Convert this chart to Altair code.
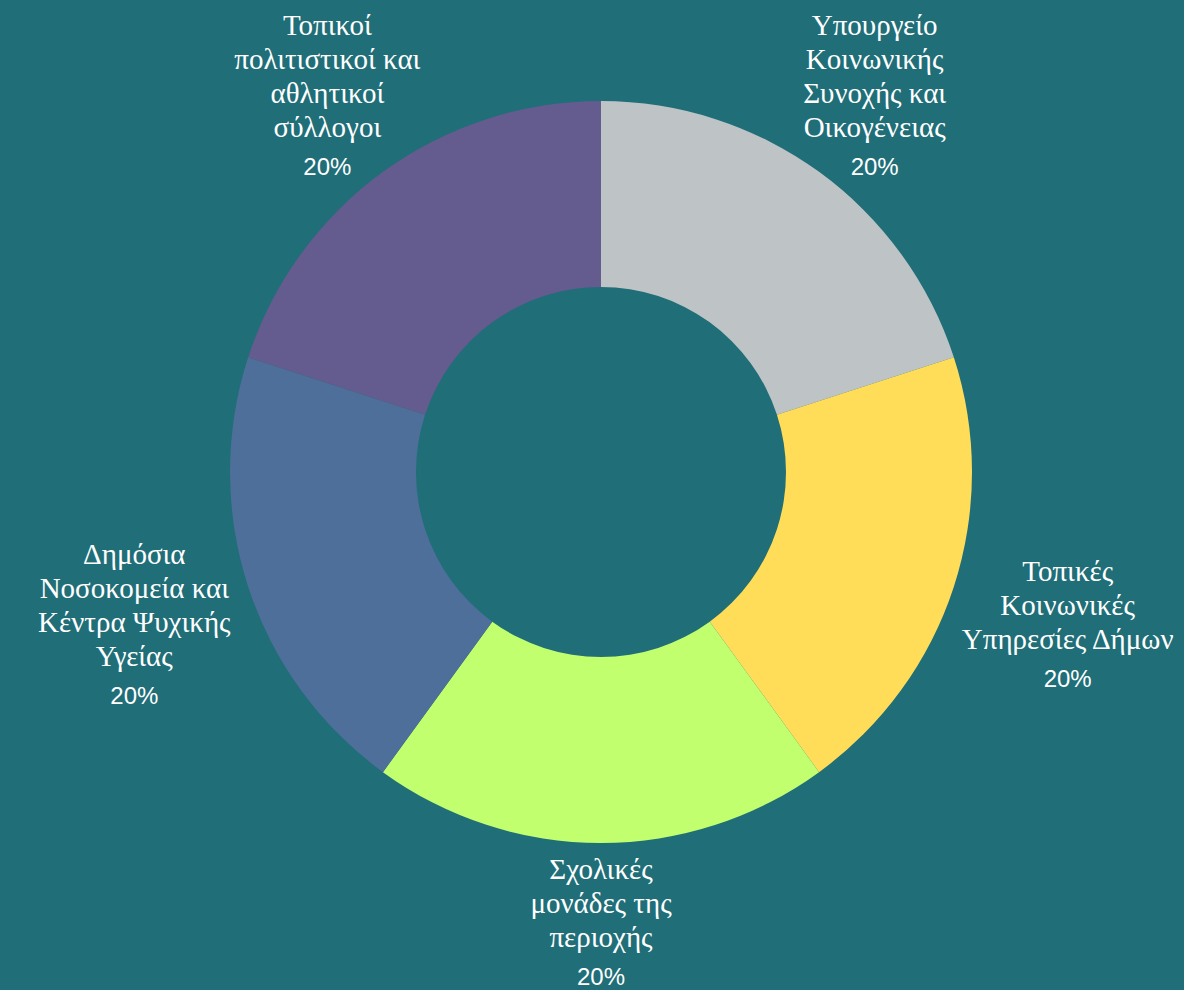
import altair as alt
import pandas as pd

# ---- data ----
names = [
    "Υπουργείο\nΚοινωνικής\nΣυνοχής και\nΟικογένειας",
    "Τοπικές\nΚοινωνικές\nΥπηρεσίες Δήμων",
    "Σχολικές\nμονάδες της\nπεριοχής",
    "Δημόσια\nΝοσοκομεία και\nΚέντρα Ψυχικής\nΥγείας",
    "Τοπικοί\nπολιτιστικοί και\nαθλητικοί\nσύλλογοι",
]
values = [20, 20, 20, 20, 20]
colors = ["#bec3c6", "#ffdd59", "#c1ff6f", "#4e6f99", "#645b8f"]

total = sum(values)
df = pd.DataFrame({
    "name": names,
    "value": values,
    "idx": list(range(len(names))),
    "pct": [f"{round(v / total * 100)}%" for v in values],
    "nl": [nm.count("\n") + 1 for nm in names],
})

BG = "#206e78"
CX, CY = 593, 464
LH = 34

base = alt.Chart(df).transform_window(
    cum="sum(value)", sort=[alt.SortField("idx")], frame=[None, 0]
).transform_calculate(
    start="datum.cum - datum.value",
    mid="datum.cum - datum.value / 2",
    lr=f"450 + 45 * pow(sin(2 * PI * (datum.cum - datum.value / 2) / {total}), 2)",
)

theta_scale = alt.Scale(domain=[0, total], range=[0, 6.283185307179586])

arcs = base.mark_arc(innerRadius=185, outerRadius=371).encode(
    x=alt.value(CX),
    y=alt.value(CY),
    theta=alt.Theta("start:Q", scale=theta_scale, stack=False),
    theta2="cum:Q",
    color=alt.Color("name:N", scale=alt.Scale(domain=names, range=colors), legend=None),
)

label_enc = dict(
    x=alt.value(CX),
    y=alt.value(CY),
    theta=alt.Theta("mid:Q", scale=theta_scale, stack=False),
    radius=alt.Radius("lr:Q", scale=None),
)

layers = [arcs]
for n in sorted(set(df["nl"])):
    grp = base.transform_filter(f"datum.nl == {n}")
    layers.append(
        grp.mark_text(
            font="Liberation Serif", fontSize=29, lineHeight=LH, lineBreak="\n",
            align="center", baseline="middle", dy=-(n - 1) * LH / 2 - 18,
            color="#ffffff",
        ).encode(text="name:N", **label_enc)
    )
    layers.append(
        grp.mark_text(
            font="Liberation Sans", fontSize=24,
            align="center", baseline="middle", dy=(n - 1) * LH / 2 + 22,
            color="#ffffff",
        ).encode(text="pct:N", **label_enc)
    )

chart = alt.layer(*layers).properties(
    width=1168, height=982, padding=0,
    autosize=alt.AutoSizeParams(type="none"),
).configure(background=BG).configure_view(stroke=None)

chart.save(
    "out.html",
    embed_options={"renderer": "svg", "actions": False,
                   "defaultStyle": "body { background: " + BG + "; overflow: hidden; }"},
)
